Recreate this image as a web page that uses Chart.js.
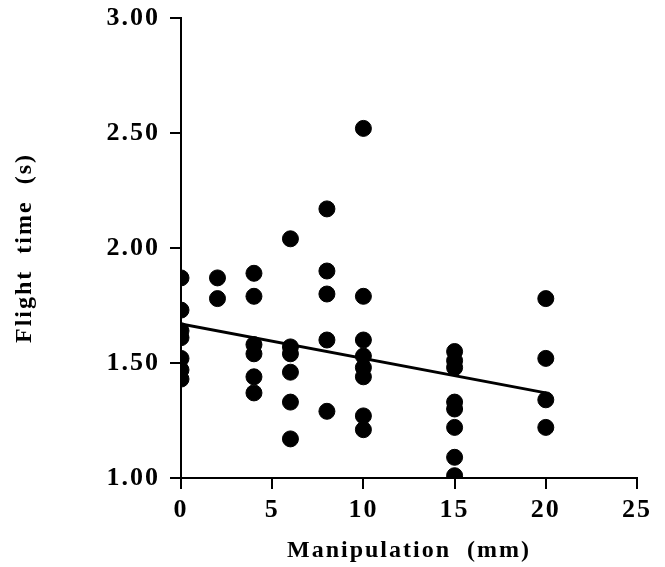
<!DOCTYPE html>
<html>
<head>
<meta charset="utf-8">
<script src="https://cdn.jsdelivr.net/npm/chart.js@4/dist/chart.umd.min.js"></script>
<style>
  html, body { margin: 0; padding: 0; background: #fff; }
  #wrap { width: 665px; height: 567px; }
</style>
</head>
<body>
<div id="wrap"><canvas id="flightChart"></canvas></div>
<script>
// Datos: manipulacion (mm) y tiempo de vuelo (s)
const manipulation = [0, 0, 0, 0, 0, 0, 0,
  2, 2,
  4, 4, 4, 4, 4, 4,
  6, 6, 6, 6, 6, 6,
  8, 8, 8, 8, 8,
  10, 10, 10, 10, 10, 10, 10, 10,
  15, 15, 15, 15, 15, 15, 15, 15,
  20, 20, 20, 20];
const flightTime = [1.87, 1.73, 1.64, 1.61, 1.52, 1.47, 1.43,
  1.87, 1.78,
  1.89, 1.79, 1.58, 1.54, 1.44, 1.37,
  2.04, 1.57, 1.54, 1.46, 1.33, 1.17,
  2.17, 1.90, 1.80, 1.60, 1.29,
  2.52, 1.79, 1.60, 1.53, 1.48, 1.44, 1.27, 1.21,
  1.55, 1.51, 1.48, 1.33, 1.30, 1.22, 1.09, 1.01,
  1.78, 1.52, 1.34, 1.22];

// Recta de regresion (extremos)
const fitX = [0, 20];
const fitY = [1.67, 1.37];

const xTicks = [0, 5, 10, 15, 20, 25];
const yTicks = [1.00, 1.50, 2.00, 2.50, 3.00];

const serif = "'Liberation Serif', 'Times New Roman', serif";

// Espaciado entre letras como en la figura
const letterSpacingPlugin = {
  id: 'letterSpacing',
  beforeLayout(chart) { chart.ctx.letterSpacing = '2px'; },
  beforeDraw(chart) { chart.ctx.letterSpacing = '2px'; }
};

const axisStyle = {
  grid: { display: true, drawOnChartArea: false, drawTicks: true, tickLength: 11, color: '#000', lineWidth: 2 },
  border: { display: true, color: '#000', width: 2 }
};

new Chart(document.getElementById('flightChart'), {
  data: {
    datasets: [
      {
        type: 'scatter',
        data: manipulation.map((x, i) => ({ x: x, y: flightTime[i] })),
        backgroundColor: '#000',
        borderColor: '#000',
        pointRadius: 8,
        pointHoverRadius: 8
      },
      {
        type: 'line',
        data: fitX.map((x, i) => ({ x: x, y: fitY[i] })),
        borderColor: '#000',
        borderWidth: 3,
        pointRadius: 0,
        fill: false
      }
    ]
  },
  options: {
    responsive: true,
    maintainAspectRatio: false,
    animation: false,
    layout: { padding: { top: 18, right: 28, left: 0, bottom: 0 } },
    plugins: { legend: { display: false }, tooltip: { enabled: false } },
    scales: {
      x: {
        type: 'linear',
        min: 0,
        max: 25,
        afterBuildTicks: scale => { scale.ticks = xTicks.map(v => ({ value: v })); },
        afterFit: scale => { scale.height = 89; scale.paddingRight = 0; },
        ticks: {
          color: '#000',
          padding: 6,
          maxRotation: 0,
          font: { family: serif, size: 26, weight: 'bold' },
          callback: v => String(v)
        },
        title: {
          display: true,
          text: 'Manipulation  (mm)',
          color: '#000',
          padding: { top: 0, bottom: 2 },
          font: { family: serif, size: 24, weight: 'bold' }
        },
        ...axisStyle
      },
      y: {
        type: 'linear',
        min: 1,
        max: 3,
        afterBuildTicks: scale => { scale.ticks = yTicks.map(v => ({ value: v })); },
        afterFit: scale => { scale.width = 181; scale.paddingTop = 0; scale.paddingBottom = 0; },
        ticks: {
          color: '#000',
          padding: 10,
          font: { family: serif, size: 26, weight: 'bold' },
          callback: v => v.toFixed(2)
        },
        title: {
          display: true,
          text: 'Flight  time  (s)',
          color: '#000',
          padding: { top: 10, bottom: 0 },
          font: { family: serif, size: 24, weight: 'bold' }
        },
        ...axisStyle
      }
    }
  },
  plugins: [letterSpacingPlugin]
});
</script>
</body>
</html>
